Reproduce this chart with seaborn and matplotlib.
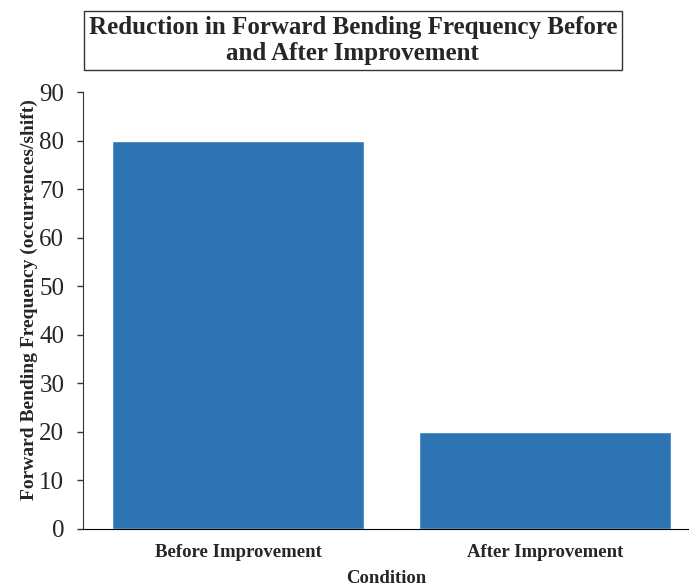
import matplotlib
matplotlib.use("Agg")
import matplotlib.pyplot as plt
import seaborn as sns
import pandas as pd

conditions = ["Before Improvement", "After Improvement"]
frequency = [80, 20]
yticks = [0, 10, 20, 30, 40, 50, 60, 70, 80, 90]

sns.set_style("ticks")
plt.rcParams["font.family"] = ["Liberation Serif", "DejaVu Serif"]

df = pd.DataFrame({"Condition": conditions, "Frequency": frequency})

fig = plt.figure(figsize=(6.89, 5.86), dpi=100)
ax = fig.add_axes([0.1205, 0.0973, 0.8795, 0.7457])

sns.barplot(data=df, x="Condition", y="Frequency", color="#2E74B5",
            saturation=1, width=0.82, ax=ax)

ax.set_xlim(-0.504, 1.467)
ax.set_ylim(0, 90)
ax.set_yticks(yticks)
ax.tick_params(axis="y", labelsize=18, length=4.5, width=1, color="#333333", pad=9)
ax.tick_params(axis="x", length=0, pad=11)
for lab in ax.get_xticklabels():
    lab.set_fontsize(13.5)
    lab.set_fontweight("bold")

ax.set_xlabel("Condition", fontsize=13.5, fontweight="bold", labelpad=6)
ax.set_ylabel("Forward Bending Frequency (occurrences/shift)", fontsize=14,
              fontweight="bold")
ax.yaxis.set_label_coords(-0.074, 0.524)

sns.despine(ax=ax)
ax.spines["left"].set_color("#333333")
ax.spines["bottom"].set_color("#000000")

fig.text(0.512, 0.931, "Reduction in Forward Bending Frequency Before\nand After Improvement",
         ha="center", va="center", fontsize=18, fontweight="bold", linespacing=1.2,
         bbox=dict(boxstyle="square,pad=0.18", facecolor="white", edgecolor="#333333", linewidth=1))

fig.savefig("out.png", dpi=100)
